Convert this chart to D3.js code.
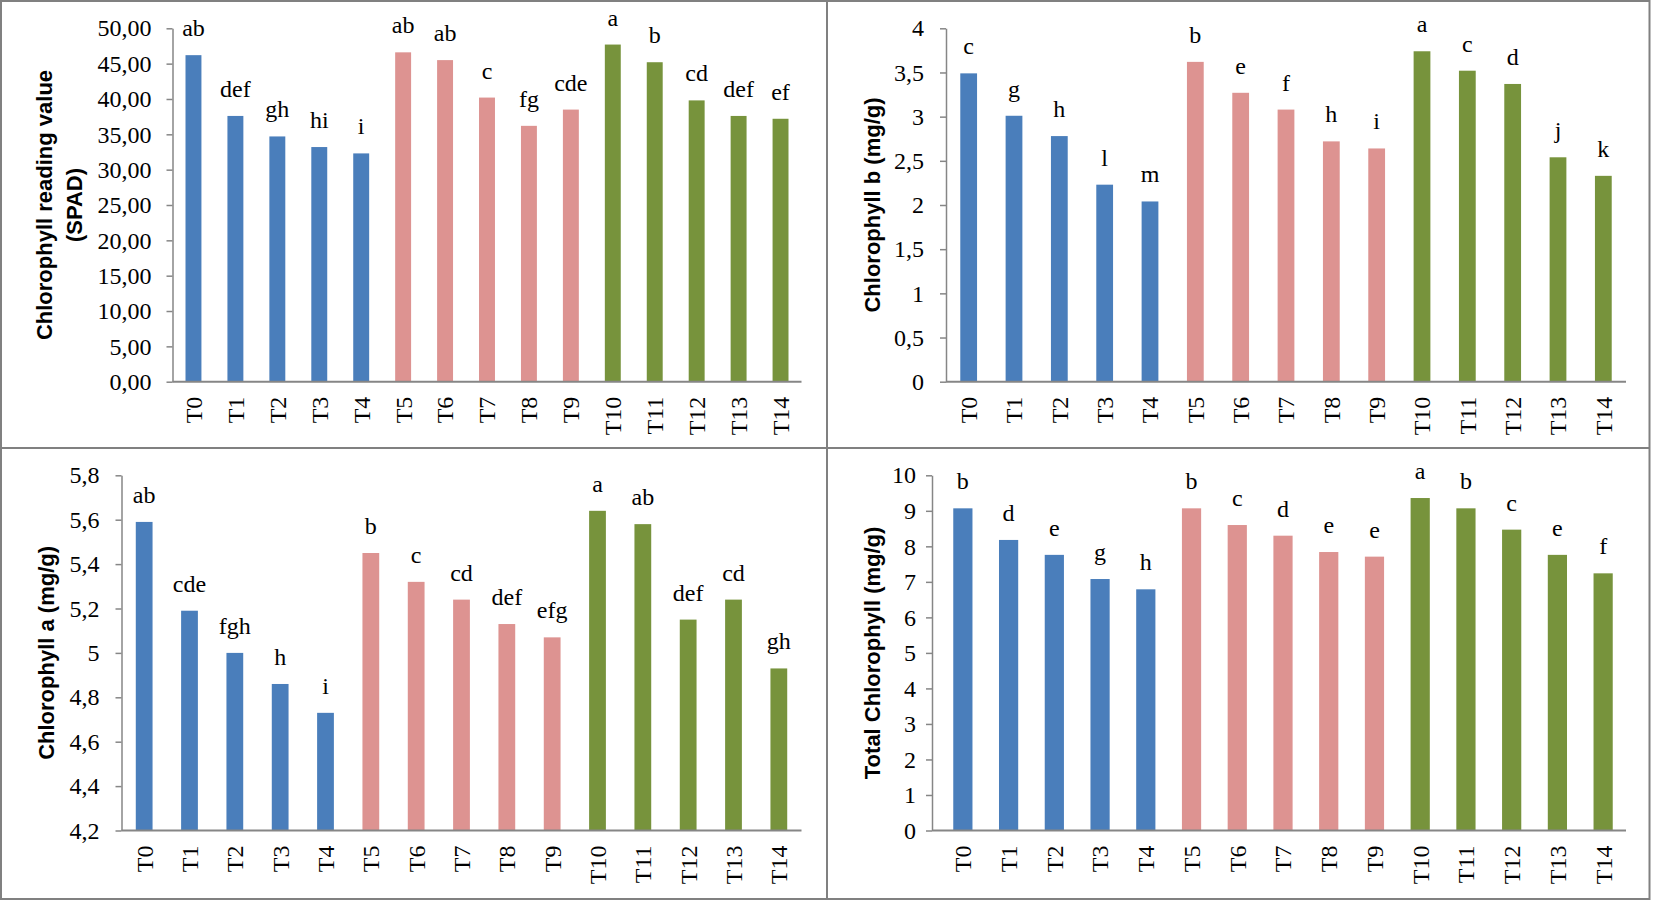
<!DOCTYPE html>
<html>
<head>
<meta charset="utf-8">
<script src="https://cdnjs.cloudflare.com/ajax/libs/d3/7.8.5/d3.min.js"></script>
<style>
  body { margin: 0; background: #fff; }
  svg { display: block; }
</style>
</head>
<body>
<svg id="chart" width="1654" height="901"></svg>
<script>
// treatments and group colours (blue T0-T4, pink T5-T9, green T10-T14)
const treatments = ['T0', 'T1', 'T2', 'T3', 'T4', 'T5', 'T6', 'T7', 'T8', 'T9', 'T10', 'T11', 'T12', 'T13', 'T14']
const groupColors = ['#4a7ebb', '#dd9391', '#77933c']

// values
const spadValues = [46.2, 37.6, 34.7, 33.2, 32.3, 46.6, 45.5, 40.2, 36.2, 38.5, 47.7, 45.2, 39.8, 37.6, 37.2]
const spadLetters = ['ab', 'def', 'gh', 'hi', 'i', 'ab', 'ab', 'c', 'fg', 'cde', 'a', 'b', 'cd', 'def', 'ef']

const chlBValues = [3.49, 3.01, 2.78, 2.23, 2.04, 3.62, 3.27, 3.08, 2.72, 2.64, 3.74, 3.52, 3.37, 2.54, 2.33]
const chlBLetters = ['c', 'g', 'h', 'l', 'm', 'b', 'e', 'f', 'h', 'i', 'a', 'c', 'd', 'j', 'k']

const chlAValues = [5.59, 5.19, 5.00, 4.86, 4.73, 5.45, 5.32, 5.24, 5.13, 5.07, 5.64, 5.58, 5.15, 5.24, 4.93]
const chlALetters = ['ab', 'cde', 'fgh', 'h', 'i', 'b', 'c', 'cd', 'def', 'efg', 'a', 'ab', 'def', 'cd', 'gh']

const totalValues = [9.07, 8.18, 7.76, 7.08, 6.79, 9.07, 8.60, 8.30, 7.84, 7.71, 9.36, 9.07, 8.47, 7.76, 7.24]
const totalLetters = ['b', 'd', 'e', 'g', 'h', 'b', 'c', 'd', 'e', 'e', 'a', 'b', 'c', 'e', 'f']

// axis tick labels
const spadTicks = ['0,00', '5,00', '10,00', '15,00', '20,00', '25,00', '30,00', '35,00', '40,00', '45,00', '50,00']
const chlBTicks = ['0', '0,5', '1', '1,5', '2', '2,5', '3', '3,5', '4']
const chlATicks = ['4,2', '4,4', '4,6', '4,8', '5', '5,2', '5,4', '5,6', '5,8']
const totalTicks = ['0', '1', '2', '3', '4', '5', '6', '7', '8', '9', '10']

const serif = '"Liberation Serif", "Times New Roman", serif'
const sans = '"Liberation Sans", Arial, sans-serif'
const axisColor = '#868686'

const svg = d3.select('#chart')

const panels = [
    {
        values: spadValues, letters: spadLetters, ticks: spadTicks,
        title: ['Chlorophyll reading value', '(SPAD)'], titleX: [44, 74],
        axisX: 172.5, x0: 172.5, x1: 801.5, yTop: 28.3, yBottom: 381.7,
        barFrac: 0.38, labelGap: 21
    },
    {
        values: chlBValues, letters: chlBLetters, ticks: chlBTicks,
        title: ['Chlorophyll b (mg/g)'], titleX: [872],
        axisX: 946, x0: 946, x1: 1626, yTop: 28.3, yBottom: 381.7,
        barFrac: 0.37, labelGap: 22
    },
    {
        values: chlAValues, letters: chlALetters, ticks: chlATicks,
        title: ['Chlorophyll a (mg/g)'], titleX: [46],
        axisX: 121.5, x0: 121.5, x1: 801.5, yTop: 475.3, yBottom: 830.5,
        barFrac: 0.37, labelGap: 22
    },
    {
        values: totalValues, letters: totalLetters, ticks: totalTicks,
        title: ['Total Chlorophyll (mg/g)'], titleX: [872],
        axisX: 932, x0: 940, x1: 1626, yTop: 475.3, yBottom: 830.5,
        barFrac: 0.42, labelGap: 16
    }
]

function parseTick(t) {
    return +t.replace(',', '.')
}

function drawPanel(p) {
    const tickVals = p.ticks.map(parseTick)
    const lo = d3.min(tickVals)
    const hi = d3.max(tickVals)

    const x = d3.scaleBand()
        .domain(treatments)
        .range([p.x0, p.x1])
        .paddingInner(1 - p.barFrac)
        .paddingOuter((1 - p.barFrac) / 2)

    const y = d3.scaleLinear()
        .domain([lo, hi])
        .range([p.yBottom, p.yTop])

    const g = svg.append('g')

    // bars
    g.selectAll('rect.bar')
        .data(p.values)
        .join('rect')
        .attr('class', 'bar')
        .attr('x', (d, i) => x(treatments[i]))
        .attr('width', x.bandwidth())
        .attr('y', d => y(d))
        .attr('height', d => y(lo) - y(d))
        .style('fill', (d, i) => groupColors[Math.floor(i / 5)])

    // significance letters
    g.selectAll('text.letter')
        .data(p.values)
        .join('text')
        .attr('class', 'letter')
        .attr('x', (d, i) => x(treatments[i]) + x.bandwidth() / 2)
        .attr('y', d => y(d) - 19)
        .attr('text-anchor', 'middle')
        .style('font-family', serif)
        .style('font-size', '24px')
        .style('fill', '#000')
        .text((d, i) => p.letters[i])

    // y axis
    const yAxis = d3.axisLeft(y)
        .tickValues(tickVals)
        .tickSize(6)
        .tickSizeOuter(0)
        .tickPadding(p.labelGap - 6)
        .tickFormat((d, i) => p.ticks[i])

    const ya = g.append('g')
        .attr('transform', `translate(${p.axisX},0)`)
        .call(yAxis)
    ya.select('.domain').style('stroke', axisColor).style('stroke-width', 1.5)
    ya.selectAll('.tick line').style('stroke', axisColor).style('stroke-width', 1.5)
    ya.selectAll('.tick text')
        .style('font-family', serif)
        .style('font-size', '24px')
        .style('fill', '#000')

    // x axis baseline
    g.append('line')
        .attr('x1', p.axisX)
        .attr('x2', p.x1)
        .attr('y1', y(lo))
        .attr('y2', y(lo))
        .style('stroke', axisColor)
        .style('stroke-width', 2)

    // category labels, rotated
    g.selectAll('text.cat')
        .data(treatments)
        .join('text')
        .attr('class', 'cat')
        .attr('transform', d => `translate(${x(d) + x.bandwidth() / 2},${y(lo) + 15}) rotate(-90)`)
        .attr('text-anchor', 'end')
        .attr('dy', '0.35em')
        .style('font-family', serif)
        .style('font-size', '24px')
        .style('fill', '#000')
        .text(d => d)

    // axis title
    const midY = (p.yTop + p.yBottom) / 2
    p.title.forEach((line, k) => {
        g.append('text')
            .attr('transform', `translate(${p.titleX[k]},${midY}) rotate(-90)`)
            .attr('text-anchor', 'middle')
            .attr('dy', '0.35em')
            .style('font-family', sans)
            .style('font-weight', 'bold')
            .style('font-size', '22px')
            .style('fill', '#000')
            .text(line)
    })
}

panels.forEach(drawPanel)

// frame and dividers
svg.append('rect')
    .attr('x', 1).attr('y', 1)
    .attr('width', 1648.5).attr('height', 898)
    .style('fill', 'none')
    .style('stroke', '#808080')
    .style('stroke-width', 2)

svg.append('line')
    .attr('x1', 827).attr('x2', 827).attr('y1', 1).attr('y2', 899)
    .style('stroke', '#808080').style('stroke-width', 2)

svg.append('line')
    .attr('x1', 1).attr('x2', 1649.5).attr('y1', 448).attr('y2', 448)
    .style('stroke', '#808080').style('stroke-width', 2)
</script>
</body>
</html>
